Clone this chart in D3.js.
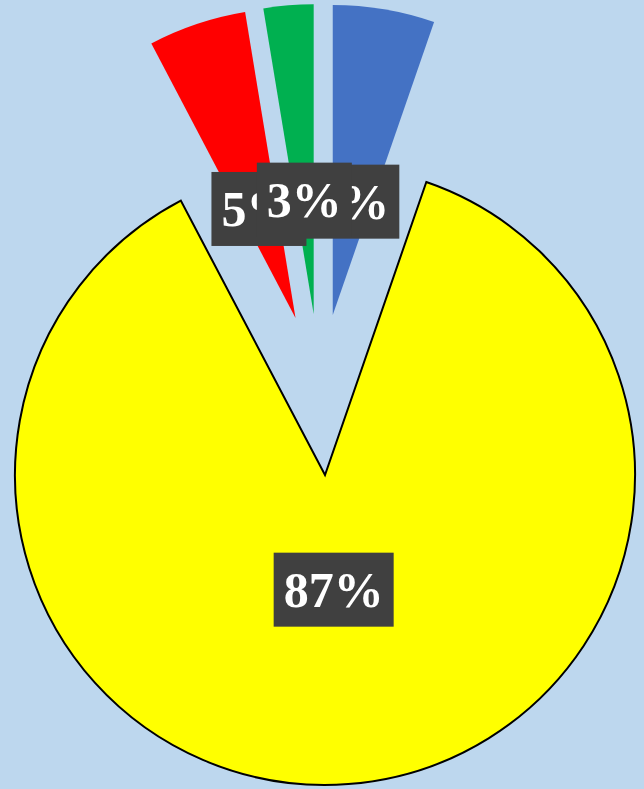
<!DOCTYPE html>
<html>
<head>
<meta charset="utf-8">
<script src="https://cdn.jsdelivr.net/npm/d3@7"></script>
<style>
  html, body { margin: 0; padding: 0; background: #bdd7ee; }
  svg { display: block; }
</style>
</head>
<body>
<div id="chart"></div>
<script>
const width = 644;
const height = 789;

// slices clockwise from 12 o'clock
const categories = ['Blue', 'Yellow', 'Red', 'Green'];
const shares = [5.3, 87.0, 5.1, 2.6];
const colors = ['#4472c4', '#ffff00', '#ff0000', '#00b050'];
const exploded = ['Blue', 'Red', 'Green'];

const data = categories.map((c, i) => ({name: c, value: shares[i], color: colors[i]}));
const total = d3.sum(shares);

const cx = 325, cy = 475;
const radius = 310;
const explodeDist = 77;
const groupShift = [-5, -84];
const labelDist = 115;

const svg = d3.select('#chart')
    .append('svg')
    .attr('width', width)
    .attr('height', height);

svg.append('rect')
    .attr('width', width)
    .attr('height', height)
    .attr('fill', '#bdd7ee');

const pie = d3.pie()
    .value(d => d.value)
    .sort(null)
    .startAngle(0)
    .endAngle(2 * Math.PI);

const arc = d3.arc()
    .innerRadius(0)
    .outerRadius(radius);

const arcs = pie(data);

// offset of each slice's apex from the pie centre
function apex(d) {
    if (!exploded.includes(d.data.name)) return [0, 0];
    const mid = (d.startAngle + d.endAngle) / 2;
    return [groupShift[0] + explodeDist * Math.sin(mid),
            groupShift[1] - explodeDist * Math.cos(mid)];
}

const g = svg.append('g')
    .attr('transform', `translate(${cx},${cy})`);

g.selectAll('path')
    .data(arcs)
    .join('path')
    .attr('transform', d => `translate(${apex(d)})`)
    .attr('d', arc)
    .attr('fill', d => d.data.color)
    .attr('stroke', d => exploded.includes(d.data.name) ? 'none' : '#000')
    .attr('stroke-width', 2)
    .attr('stroke-linejoin', 'miter');

const fmt = d3.format('.0%');

const labels = g.selectAll('g.label')
    .data(arcs)
    .join('g')
    .attr('class', 'label')
    .attr('transform', d => {
        const [ax, ay] = apex(d);
        const mid = (d.startAngle + d.endAngle) / 2;
        return `translate(${ax + labelDist * Math.sin(mid)},${ay - labelDist * Math.cos(mid)})`;
    });

labels.each(function(d) {
    const lg = d3.select(this);
    const box = lg.append('rect').attr('fill', '#404040');
    const t = lg.append('text')
        .attr('text-anchor', 'middle')
        .attr('dy', '0.35em')
        .attr('fill', '#fff')
        .attr('font-family', '"Liberation Serif", "Times New Roman", serif')
        .attr('font-weight', 'bold')
        .attr('font-size', 50)
        .text(fmt(d.data.value / total));
    const bb = t.node().getBBox();
    const padX = 10;
    box.attr('x', -bb.width / 2 - padX)
        .attr('y', -37)
        .attr('width', bb.width + 2 * padX)
        .attr('height', 74);
});
</script>
</body>
</html>
